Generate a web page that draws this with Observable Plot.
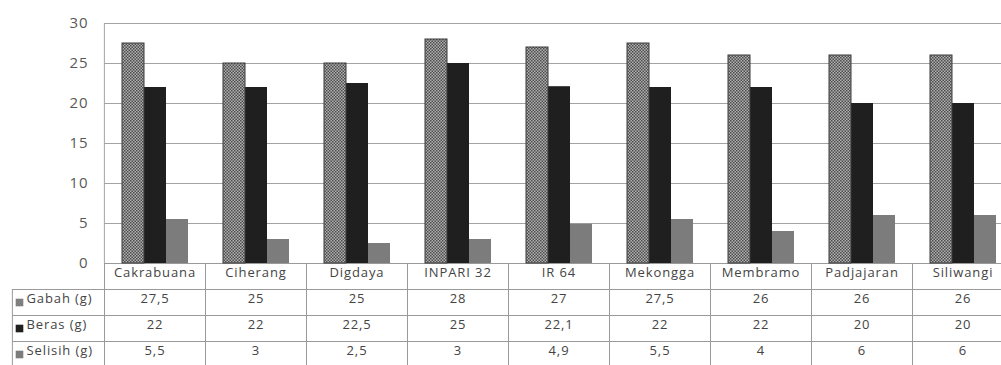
<!DOCTYPE html>
<html>
<head>
<meta charset="utf-8">
<script src="https://cdn.jsdelivr.net/npm/d3@7"></script>
<script src="https://cdn.jsdelivr.net/npm/@observablehq/plot@0.6"></script>
<style>
  html, body { margin: 0; padding: 0; background: #fff; overflow: hidden; }
  #chart svg { display: block; }
</style>
</head>
<body>
<!-- Dotted fill used for the "Gabah" series -->
<svg width="0" height="0" style="position:absolute">
  <defs>
    <pattern id="gabah-dots" width="3" height="3" patternUnits="userSpaceOnUse">
      <rect width="3" height="3" fill="#b0b0b0"></rect>
      <rect x="0" y="0" width="1.5" height="1.5" fill="#4c4c4c"></rect>
      <rect x="1.5" y="1.5" width="1.5" height="1.5" fill="#4c4c4c"></rect>
    </pattern>
  </defs>
</svg>
<div id="chart"></div>
<script>
// Rice varieties and measured weights (g)
const varieties = ["Cakrabuana", "Ciherang", "Digdaya", "INPARI 32", "IR 64", "Mekongga", "Membramo", "Padjajaran", "Siliwangi"];
const seriesNames = ["Gabah (g)", "Beras (g)", "Selisih (g)"];
const gabah   = [27.5, 25, 25, 28, 27, 27.5, 26, 26, 26];
const beras   = [22, 22, 22.5, 25, 22.1, 22, 22, 20, 20];
const selisih = [5.5, 3, 2.5, 3, 4.9, 5.5, 4, 6, 6];
const yTicks  = [0, 5, 10, 15, 20, 25, 30];
const seriesFills = ["url(#gabah-dots)", "#1f1f1f", "#7c7c7c"];

// Long table: one row per variety and series
const seriesValues = [gabah, beras, selisih];
const rows = seriesNames.flatMap((s, k) =>
  varieties.map((v, i) => ({variety: v, series: s, value: seriesValues[k][i]}))
);
const fmt = v => String(v).replace(".", ",");

const width = 1001, height = 365;
const marginLeft = 103, marginRight = -13, marginTop = 23, marginBottom = 102;
const facetWidth = (width - marginLeft - marginRight) / varieties.length;
const rowH = 26;                 // height of one data-table row
const labelColumn = 92;          // width of the row-label column
const gridColor = "#a3a3a3";
const tableColor = "#9a9a9a";
const textColor = "#444";
const tableFont = {fontSize: 13, fill: textColor};

const first = varieties[0];

const marks = [
  // horizontal gridlines
  Plot.ruleY(yTicks, {stroke: gridColor}),
  // vertical axis line
  Plot.ruleX([first], {x: null, fx: d => d, dx: -facetWidth / 2, stroke: gridColor}),
  // data-table cell borders under each variety
  Plot.frame({stroke: tableColor, insetTop: height - marginTop - marginBottom, insetBottom: -110}),
  ...[1, 2, 3].map(r => Plot.ruleY([0], {dy: r * rowH, stroke: tableColor})),
  ...[1, 2, 3].map(r => Plot.ruleY([first], {y: () => 0, fx: d => d, dy: r * rowH, insetLeft: -labelColumn, stroke: tableColor})),
  Plot.ruleX([first], {x: null, fx: d => d, dx: -facetWidth / 2 - labelColumn, insetTop: height - marginTop - marginBottom + rowH, insetBottom: -110, stroke: tableColor}),
  // bars
  Plot.barY(rows, {fx: "variety", x: "series", y: "value", fill: "series"}),
  Plot.barY(rows.filter(d => d.series === seriesNames[0]), {fx: "variety", x: "series", y: "value", fill: "none", stroke: "#3a3a3a", strokeWidth: 1}),
  // table header: variety names
  Plot.text(varieties, {fx: d => d, frameAnchor: "bottom", dy: rowH / 2, text: d => d, ...tableFont}),
  // table body: one row per series
  ...seriesNames.flatMap((s, k) => {
    const dy = rowH * (k + 1) + rowH / 2;
    return [
      Plot.text(rows.filter(d => d.series === s), {fx: "variety", frameAnchor: "bottom", dy, text: d => fmt(d.value), ...tableFont}),
      Plot.dot([s], {fx: () => first, frameAnchor: "bottom-left", dx: -85, dy, symbol: "square", r: 4.3, fill: d => d}),
      Plot.text([s], {fx: () => first, frameAnchor: "bottom-left", dx: -78, dy, textAnchor: "start", text: d => d, ...tableFont})
    ];
  })
];

const chart = Plot.plot({
  width, height, marginLeft, marginRight, marginTop, marginBottom,
  style: {fontFamily: "'Open Sans', sans-serif", fontSize: "15px", color: "#595959", background: "#fff", letterSpacing: "0.9px"},
  fx: {domain: varieties, padding: 0, axis: null},
  x: {domain: seriesNames, paddingInner: 0, paddingOuter: 0.73, axis: null},
  y: {domain: [0, 30], ticks: yTicks, tickSize: 0, tickPadding: 16, label: null},
  color: {domain: seriesNames, range: seriesFills},
  marks
});
document.getElementById("chart").appendChild(chart);
</script>
</body>
</html>
